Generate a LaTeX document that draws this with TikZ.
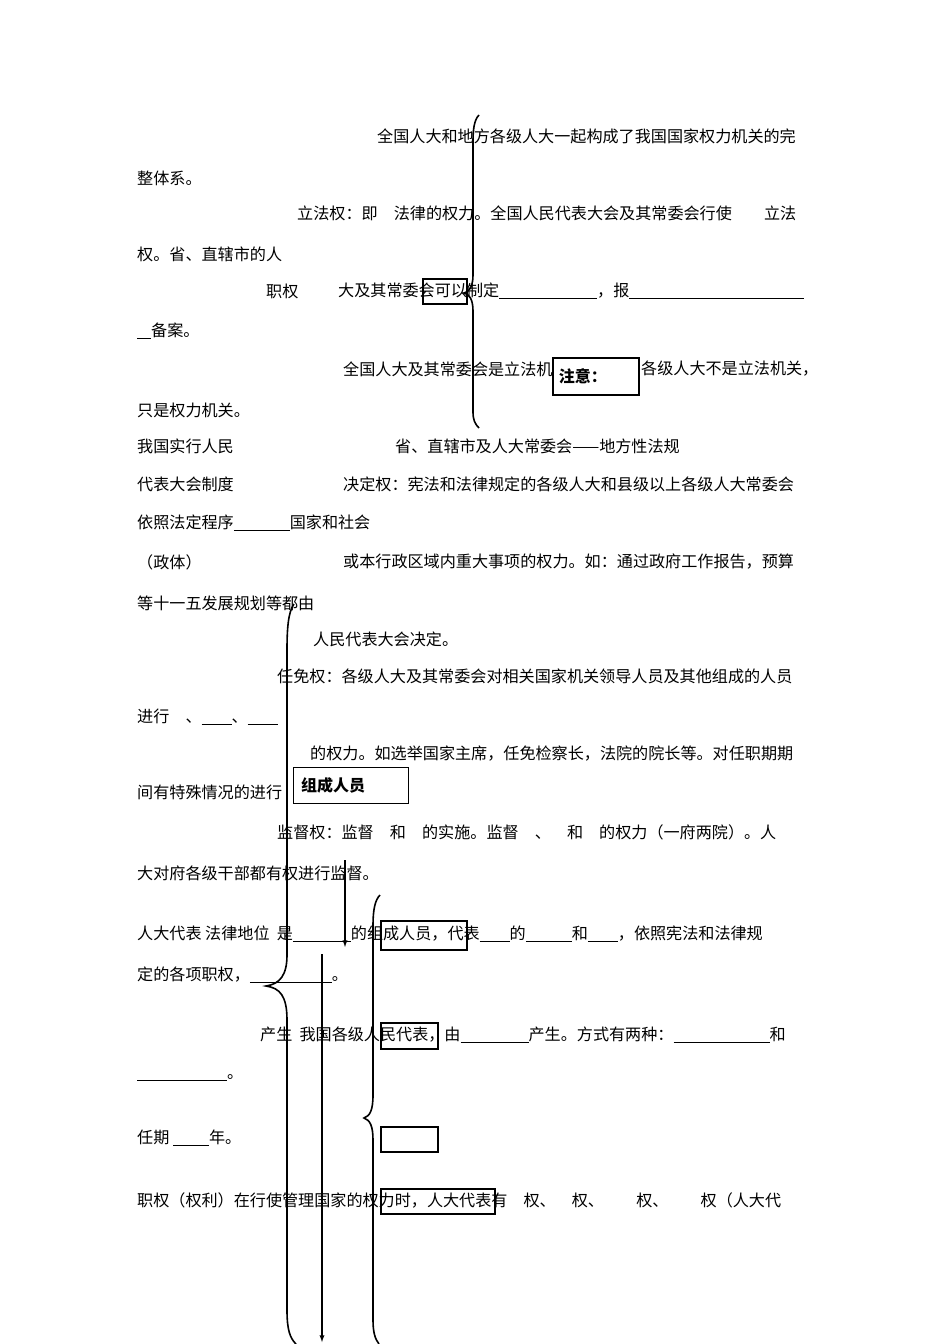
\documentclass[tikz,border=0pt]{standalone}
\usepackage{fontspec}
\newfontfamily\cjk{Noto Sans CJK SC}
\newcommand{\bl}[1]{\underline{\hspace{#1pt}}}
\newcommand{\qs}{\hspace{1em}}
\begin{document}
\begin{tikzpicture}[x=1pt,y=-1pt,
  tx/.style={anchor=west,inner sep=0pt,font=\cjk\fontsize{16.1}{16}\selectfont},
  bx/.style={draw,line width=1.5pt,fill=white,anchor=north west,inner sep=0pt},
  brc/.style={line width=1.6pt},
  arr/.style={line width=1.3pt,-latex}]
\useasboundingbox (0,0) rectangle (950,1344);
\node[tx] (t1) at (377,136) {全国人大和地方各级人大一起构成了我国国家权力机关的完};
\node[tx] (t2) at (137,178) {整体系。};
\node[tx] (t3) at (297,213) {立法权：即\qs 法律的权力。全国人民代表大会及其常委会行使\qs\qs 立法};
\node[tx] (t4) at (137,254) {权。省、直辖市的人};
\node[tx] (t5a) at (266,291) {职权};
\node[tx] (t5) at (338,291) {大及其常委会可以制定\bl{98}，报\bl{175}};
\node[tx] (t6) at (137,331) {\bl{14}备案。};
\node[tx] (t7) at (343,369) {全国人大及其常委会是立法机};
\node[tx] (t7b) at (641,369) {各级人大不是立法机关，};
\node[tx] (t8) at (137,410) {只是权力机关。};
\node[tx] (t9a) at (137,446) {我国实行人民};
\node[tx] (t9) at (395,446) {省、直辖市及人大常委会——地方性法规};
\node[tx] (t10a) at (137,484) {代表大会制度};
\node[tx] (t10) at (343,484) {决定权：宪法和法律规定的各级人大和县级以上各级人大常委会};
\node[tx] (t11) at (137,523) {依照法定程序\bl{56}国家和社会};
\node[tx] (t12a) at (137,562) {（政体）};
\node[tx] (t12) at (343,562) {或本行政区域内重大事项的权力。如：通过政府工作报告，预算};
\node[tx] (t13) at (137,603) {等十一五发展规划等都由};
\node[tx] (t14) at (313,639) {人民代表大会决定。};
\node[tx] (t15) at (277,676) {任免权：各级人大及其常委会对相关国家机关领导人员及其他组成的人员};
\node[tx] (t16) at (137,717) {进行\qs 、\bl{30}、\bl{30}};
\node[tx] (t17) at (310,754) {的权力。如选举国家主席，任免检察长，法院的院长等。对任职期期};
\node[tx] (t18) at (137,792) {间有特殊情况的进行};
\node[tx] (t19) at (277,832) {监督权：监督\qs 和\qs 的实施。监督\qs 、\qs 和\qs 的权力（一府两院）。人};
\node[tx] (t20) at (137,873) {大对府各级干部都有权进行监督。};
\node[tx] (t21) at (137,934) {人大代表 法律地位\ \ 是\bl{58}的组成人员，代表\bl{30}的\bl{46}和\bl{30}，依照宪法和法律规};
\node[tx] (t22) at (137,975) {定的各项职权，\bl{82}。};
\node[tx] (t23) at (260,1035) {产生\ \ 我国各级人民代表，由\bl{68}产生。方式有两种：\bl{96}和};
\node[tx] (t24) at (137,1078) {\bl{90}。};
\node[tx] (t25) at (137,1138) {任期 \bl{36}年。};
\node[tx] (t26) at (137,1200) {职权（权利）在行使管理国家的权力时，人大代表有\qs 权、\qs 权、\qs\qs 权、\qs\qs 权（人大代};
% boxes
\node[bx,fill=none,minimum width=44pt,minimum height=25pt] (b1) at (422,278) {};
\node[bx,minimum width=86pt,minimum height=37pt,font=\cjk\bfseries\fontsize{16}{16}\selectfont,align=left,text width=74pt,inner xsep=6pt] (b2) at (552,357) {注意：};
\node[bx,line width=1pt,minimum width=115pt,minimum height=36pt,font=\cjk\bfseries\fontsize{16}{16}\selectfont,align=left,text width=100pt,inner xsep=7pt] (b3) at (293,767) {组成人员};
\node[bx,fill=none,minimum width=86pt,minimum height=29pt] (b4) at (380,920) {};
\node[bx,fill=none,minimum width=57pt,minimum height=26pt] (b5) at (380,1022) {};
\node[bx,fill=none,minimum width=57pt,minimum height=25pt] (b6) at (380,1126) {};
\node[bx,fill=none,minimum width=114pt,minimum height=25pt] (b7) at (380,1188) {};
% braces
\draw[brc] (479,115) .. controls (474,120) and (473,130) .. (473,142) -- (473,275)
  .. controls (473,287) and (469,292) .. (464,293) .. controls (469,294) and (473,299) .. (473,311)
  -- (473,412) .. controls (473,420) and (475,424) .. (479,428);
\draw[brc] (294,604) .. controls (288,612) and (287,630) .. (287,650) -- (287,955)
  .. controls (287,975) and (280,984) .. (266,986) .. controls (280,988) and (287,996) .. (287,1020)
  -- (287,1310) .. controls (287,1330) and (290,1338) .. (296,1344);
\draw[brc] (380,895) .. controls (375,900) and (373,910) .. (373,925) -- (373,1095)
  .. controls (373,1110) and (370,1116) .. (364,1118) .. controls (370,1120) and (373,1126) .. (373,1140)
  -- (373,1320) .. controls (373,1332) and (375,1339) .. (379,1344);
% arrows
\coordinate (a1s) at (345,860); \coordinate (a1e) at (345,947);
\coordinate (a2s) at (322,954); \coordinate (a2e) at (322,1342);
\draw[arr] (a1s) -- (a1e);
\draw[arr] (a2s) -- (a2e);
\end{tikzpicture}
\end{document}
